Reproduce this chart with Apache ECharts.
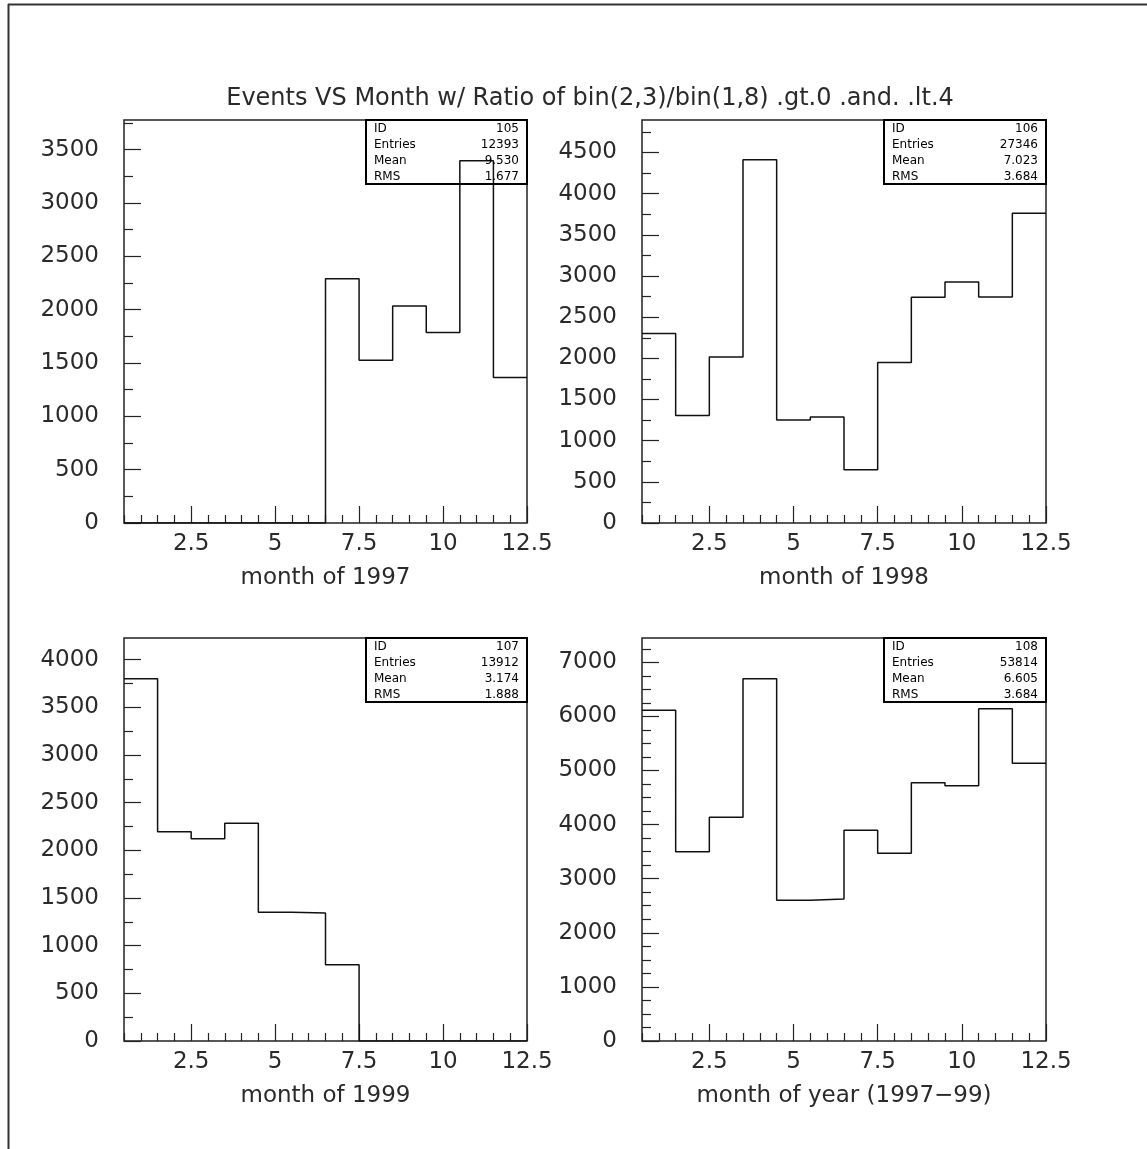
<!DOCTYPE html>
<html><head><meta charset="utf-8">
<script src="https://cdn.jsdelivr.net/npm/echarts@6/dist/echarts.min.js"></script>
<style>html,body{margin:0;padding:0;background:#fff}#c{width:1147px;height:1149px}</style>
</head><body><div id="c"></div>
<script>
// ---- data ----
const months = [1,2,3,4,5,6,7,8,9,10,11,12];
const counts1997 = [0,0,0,0,0,0,2290,1525,2035,1785,3395,1365];
const counts1998 = [2303,1307,2016,4413,1251,1287,648,1951,2741,2927,2745,3761];
const counts1999 = [3800,2196,2122,2283,1350,1343,801,0,0,0,0,0];
const countsAll  = [6113,3500,4134,6697,2600,2625,3894,3469,4775,4719,6143,5133];

const xTickLabels = [2.5,5,7.5,10,12.5];
const yTicks1997 = [0,500,1000,1500,2000,2500,3000,3500];
const yTicks1998 = [0,500,1000,1500,2000,2500,3000,3500,4000,4500];
const yTicks1999 = [0,500,1000,1500,2000,2500,3000,3500,4000];
const yTicksAll  = [0,1000,2000,3000,4000,5000,6000,7000];
const yMax = [3778, 4895, 4227, 7449];

const axisNames = ['month of 1997','month of 1998','month of 1999','month of year (1997\u221299)'];
const titleText = 'Events VS Month w/ Ratio of bin(2,3)/bin(1,8) .gt.0 .and. .lt.4';

const statIds = ['105','106','107','108'];
const statEntries = ['12393','27346','13912','53814'];
const statMeans = ['9.530','7.023','3.174','6.605'];
const statRms = ['1.677','3.684','1.888','3.684'];

// ---- layout ----
const grids = [
  {left:124, top:120, width:403, height:403},
  {left:642, top:120, width:404, height:403},
  {left:124, top:638, width:403, height:403},
  {left:642, top:638, width:404, height:403}
];
const FONT = 'DejaVu Sans';
const INK = '#2a2a2a';

function minorTicks(step, max, majors){
  const out = [];
  for (let v = step; v <= max; v += step) if (majors.indexOf(v) < 0) out.push(v);
  return out;
}
function stepData(vals){
  const d = months.map((m,i)=>[m-0.5, vals[i]]);
  d.push([months[months.length-1]+0.5, vals[vals.length-1]]);
  return d;
}

const allCounts = [counts1997, counts1998, counts1999, countsAll];
const yMajors = [yTicks1997, yTicks1998, yTicks1999, yTicksAll];
const xMinor = minorTicks(0.5, 12.5, xTickLabels);

const xAxes = [], yAxes = [], series = [], gridOpts = [];
grids.forEach((g, i) => {
  gridOpts.push(Object.assign({show:true, borderColor:'#222', borderWidth:1.5, backgroundColor:'transparent', containLabel:false}, g));
  xAxes.push({
    type:'value', gridIndex:i, min:0.5, max:12.5, position:'bottom',
    axisLine:{show:false}, splitLine:{show:false},
    axisTick:{show:true, inside:true, length:17, customValues:xTickLabels, lineStyle:{color:'#222', width:1.2}},
    axisLabel:{show:true, customValues:xTickLabels, margin:10, fontSize:23, fontFamily:FONT, color:INK, formatter:v=>String(v)},
    name:axisNames[i], nameLocation:'middle', nameGap:44,
    nameTextStyle:{fontSize:23, fontFamily:FONT, color:INK}
  });
  xAxes.push({
    type:'value', gridIndex:i, min:0.5, max:12.5, position:'bottom',
    axisLine:{show:false}, splitLine:{show:false},
    axisTick:{show:true, inside:true, length:8, customValues:xMinor, lineStyle:{color:'#222', width:1.2}},
    axisLabel:{show:false}
  });
  const maj = yMajors[i];
  const minr = minorTicks(250, yMax[i], maj);
  yAxes.push({
    type:'value', gridIndex:i, min:0, max:yMax[i], position:'left',
    axisLine:{show:false}, splitLine:{show:false},
    axisTick:{show:true, inside:true, length:17, customValues:maj, lineStyle:{color:'#222', width:1.2}},
    axisLabel:{show:true, customValues:maj, margin:25, fontSize:23, fontFamily:FONT, color:INK, formatter:v=>String(v)}
  });
  yAxes.push({
    type:'value', gridIndex:i, min:0, max:yMax[i], position:'left',
    axisLine:{show:false}, splitLine:{show:false},
    axisTick:{show:true, inside:true, length:9, customValues:minr, lineStyle:{color:'#222', width:1.2}},
    axisLabel:{show:false}
  });
  series.push({
    type:'line', xAxisIndex:2*i, yAxisIndex:2*i, step:'end',
    data:stepData(allCounts[i]), showSymbol:false, symbol:'none', silent:true,
    lineStyle:{color:'#111', width:1.5}, animation:false
  });
});

const graphics = [];
// outer page frame (top and left edges)
graphics.push({type:'line', shape:{x1:8, y1:4.5, x2:1147, y2:4.5}, style:{stroke:'#333', lineWidth:2}});
graphics.push({type:'line', shape:{x1:8.5, y1:4, x2:8.5, y2:1149}, style:{stroke:'#333', lineWidth:2}});
// title
graphics.push({type:'text', x:590, y:99, style:{text:titleText, font:'24px "DejaVu Sans"', fill:INK,
  align:'center', verticalAlign:'middle', textAlign:'center', textVerticalAlign:'middle'}});
// stat boxes
const boxes = [
  {x:366, y:120, w:161, h:64},
  {x:884, y:120, w:162, h:64},
  {x:366, y:638, w:161, h:64},
  {x:884, y:638, w:162, h:64}
];
boxes.forEach((b, i) => {
  graphics.push({type:'rect', shape:{x:b.x, y:b.y, width:b.w, height:b.h}, style:{fill:'none', stroke:'#000', lineWidth:2}, z:10});
  const labels = ['ID','Entries','Mean','RMS'];
  const vals = [statIds[i], statEntries[i], statMeans[i], statRms[i]];
  labels.forEach((l, r) => {
    const yy = b.y + 8.5 + r*16.1;
    graphics.push({type:'text', x:b.x+8, y:yy, z:10, style:{text:l, font:'12px "DejaVu Sans"', fill:'#000',
      align:'left', verticalAlign:'middle', textAlign:'left', textVerticalAlign:'middle'}});
    graphics.push({type:'text', x:b.x+b.w-8, y:yy, z:10, style:{text:vals[r], font:'12px "DejaVu Sans"', fill:'#000',
      align:'right', verticalAlign:'middle', textAlign:'right', textVerticalAlign:'middle'}});
  });
});

const chart = echarts.init(document.getElementById('c'), null, {renderer:'canvas'});
chart.setOption({
  backgroundColor:'#fff',
  animation:false,
  grid:gridOpts,
  xAxis:xAxes,
  yAxis:yAxes,
  series:series,
  graphic:graphics
});
</script>
</body></html>
